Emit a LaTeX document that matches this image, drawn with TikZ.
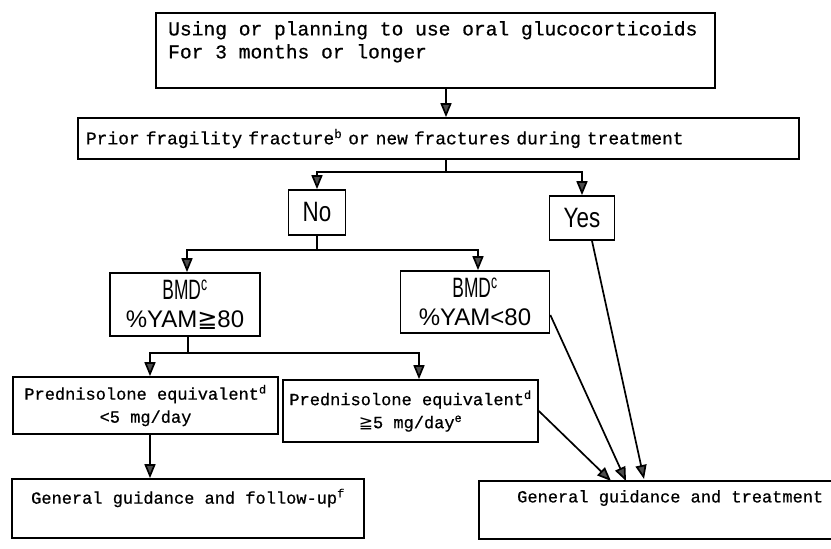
\documentclass[tikz,border=0pt]{standalone}
\usepackage{fontspec}
\setmainfont{Liberation Mono}[FakeBold=0.6]
\newfontfamily\condfont[FakeStretch=0.8]{Liberation Sans}
\newfontfamily\narrowfont[FakeStretch=0.62]{Liberation Sans}
\newfontfamily\plainsans{Liberation Sans}
\newfontfamily\symfont{DejaVu Sans}
\usetikzlibrary{arrows.meta}
\begin{document}
\begin{tikzpicture}[x=1pt,y=-1pt,
  box/.style={draw, line width=1.7pt, inner sep=0pt},
  conn/.style={line width=1.7pt},
  arr/.style={line width=1.7pt, -{Triangle[width=11pt,length=14pt,fill=black!70]}},
  txt17/.style={font=\fontsize{17}{23}\selectfont},
  yesno/.style={box, font=\condfont\fontsize{28}{30}\selectfont},
  bmdbox/.style={box, align=center, font=\plainsans\fontsize{24}{28}\selectfont},
  predbox/.style={box, align=center, txt17}
]
\useasboundingbox (0,0) rectangle (831,549);
\clip (0,0) rectangle (831,549);
\fill[white] (0,0) rectangle (831,549);

% column coordinates
\coordinate (cA) at (446,0);
\coordinate (cP1) at (150,0);
\coordinate (cP2) at (419,0);

% top box
\node[box, minimum width=559pt, minimum height=75pt] (top) at (435.5,50.5) {};
\node[anchor=north west, inner sep=0pt, align=left, font=\fontsize{19.6}{23}\selectfont] (toptext) at (168,21)
  {Using or planning to use oral glucocorticoids\\For 3 months or longer};

% fracture box
\node[box, text width=705pt, align=left, inner xsep=8pt, minimum height=41pt, font=\fontsize{17.9}{23}\selectfont] (frac) at (438.5,138.5)
  {Prior fragility fracture\textsuperscript{b} or new fractures during treatment};

% yes / no
\node[yesno, minimum width=57pt, minimum height=45pt] (no) at (317,212.5) {No};
\node[yesno, minimum width=65pt, minimum height=44pt] (yes) at (582,218) {Yes};

% BMD boxes
\node[bmdbox, minimum width=150pt, minimum height=63pt] (bmd1) at (185,304.5)
  {{\narrowfont\fontsize{28}{28}\selectfont BMD\textsuperscript{c}}\\\%YAM{\symfont ≧}80};
\node[bmdbox, minimum width=149pt, minimum height=62pt] (bmd2) at (475,302)
  {{\narrowfont\fontsize{28}{28}\selectfont BMD\textsuperscript{c}}\\\%YAM<80};

% prednisolone boxes
\node[predbox, minimum width=265pt, minimum height=57pt] (pred1) at (145.5,405.5)
  {Prednisolone equivalent\textsuperscript{d}\\<5 mg/day};
\node[predbox, minimum width=255pt, minimum height=62pt] (pred2) at (410.5,411)
  {Prednisolone equivalent\textsuperscript{d}\\{\symfont ≧}5 mg/day\textsuperscript{e}};

% outcome boxes
\node[box, minimum width=352pt, minimum height=59pt] (g1) at (188,508.5) {};
\node[txt17, inner sep=0pt] (g1text) at (188,498) {General guidance and follow-up\textsuperscript{f}};
\node[box, minimum width=361pt, minimum height=58pt] (g2) at (659.5,510) {};
\node[txt17, inner sep=0pt, anchor=west] (g2text) at (517,498) {General guidance and treatment};

% arrow tip targets on g2
\coordinate (t1) at (611,481);
\coordinate (t2) at (626,481);
\coordinate (t3) at (644,479);

% connectors
\draw[arr] (top.south -| cA) -- (frac.north -| cA);

\coordinate (j1) at (446,172);
\draw[conn] (frac.south -| j1) -- (j1);
\draw[arr] (j1) -| (no.north);
\draw[arr] (j1) -| (yes.north);

\coordinate (j2) at (317,250);
\draw[conn] (no.south) -- (j2);
\draw[arr] (j2) -| ([xshift=2pt]bmd1.north);
\draw[arr] (j2) -| ([xshift=3pt]bmd2.north);

\coordinate (j3) at (188,353);
\draw[conn] (bmd1.south -| j3) -- (j3);
\draw[arr] (j3) -| (pred1.north -| cP1);
\draw[arr] (j3) -| (pred2.north -| cP2);

\draw[arr] (pred1.south -| cP1) -- (g1.north -| cP1);

\draw[arr] (pred2.east) -- (t1);
\draw[arr] ([yshift=-13pt]bmd2.east) -- (t2);
\draw[arr] ([xshift=10pt]yes.south) -- (t3);
\end{tikzpicture}
\end{document}
